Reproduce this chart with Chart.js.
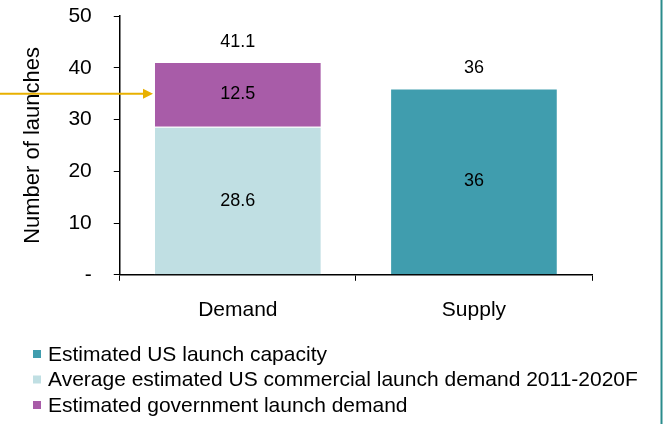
<!DOCTYPE html>
<html>
<head>
<meta charset="utf-8">
<script src="https://cdn.jsdelivr.net/npm/chart.js@4.4.1/dist/chart.umd.min.js"></script>
<style>
  html, body { margin: 0; padding: 0; background: #fff; }
  #wrap { width: 663px; height: 424px; position: relative; }
</style>
</head>
<body>
<div id="wrap"><canvas id="mycanvas" width="663" height="424"></canvas></div>
<script>
// chart values
var categories = ['Demand', 'Supply'];
var capacity = [null, 36];
var commercial = [28.6, null];
var government = [12.5, null];
var yTicks = [0, 10, 20, 30, 40, 50];
var arrowValue = 35;

var seriesNames = [
    'Estimated US launch capacity',
    'Average estimated US commercial launch demand 2011-2020F',
    'Estimated government launch demand'
];

var font = "'Liberation Sans', Arial, sans-serif";

// values inside bars + totals on top
var valueLabels = {
    id: 'valueLabels',
    afterDatasetsDraw: function(chart) {
        var ctx = chart.ctx;
        ctx.save();
        ctx.font = '18px ' + font;
        ctx.fillStyle = '#000';
        ctx.textAlign = 'center';
        ctx.textBaseline = 'middle';
        chart.data.datasets.forEach(function(ds, di) {
            var meta = chart.getDatasetMeta(di);
            meta.data.forEach(function(bar, i) {
                var v = ds.data[i];
                if (v === null) return;
                ctx.fillText(String(v), bar.x, (bar.y + bar.base) / 2);
            });
        });
        // totals
        var yScale = chart.scales.y;
        var xScale = chart.scales.x;
        categories.forEach(function(c, i) {
            var total = 0;
            chart.data.datasets.forEach(function(ds) { if (ds.data[i] !== null) total += ds.data[i]; });
            var t = Math.round(total * 10) / 10;
            ctx.fillText(String(t), xScale.getPixelForValue(i), yScale.getPixelForValue(total) - 20);
        });
        ctx.restore();
    }
};

// legend drawn by hand, one series per line
var stackedLegend = {
    id: 'stackedLegend',
    afterDraw: function(chart) {
        var ctx = chart.ctx;
        ctx.save();
        ctx.font = '21px ' + font;
        ctx.textBaseline = 'middle';
        ctx.textAlign = 'left';
        chart.data.datasets.forEach(function(ds, i) {
            var y = 354 + i * 25.5;
            ctx.fillStyle = ds.backgroundColor;
            ctx.fillRect(33, y - 4, 8, 8);
            ctx.fillStyle = '#000';
            ctx.fillText(ds.label, 48, y + 1);
        });
        ctx.restore();
    }
};

// yellow arrow pointing at the demand bar + frame line
var decorations = {
    id: 'decorations',
    afterDraw: function(chart) {
        var ctx = chart.ctx;
        var y = chart.scales.y.getPixelForValue(arrowValue);
        var bar = chart.getDatasetMeta(2).data[0];
        var tip = bar.x - bar.width / 2 - 1;
        ctx.save();
        ctx.strokeStyle = '#E8B000';
        ctx.fillStyle = '#E8B000';
        ctx.lineWidth = 2;
        ctx.beginPath();
        ctx.moveTo(0, y);
        ctx.lineTo(tip - 9, y);
        ctx.stroke();
        ctx.beginPath();
        ctx.moveTo(tip, y);
        ctx.lineTo(tip - 10, y - 5);
        ctx.lineTo(tip - 10, y + 5);
        ctx.closePath();
        ctx.fill();
        // right frame edge
        ctx.strokeStyle = '#2A8C8C';
        ctx.lineWidth = 2;
        ctx.beginPath();
        ctx.moveTo(chart.width - 1.5, 0);
        ctx.lineTo(chart.width - 1.5, chart.height);
        ctx.stroke();
        ctx.restore();
    }
};

var chartdata = {
    labels: categories,
    datasets: [
        {
            label: seriesNames[0],
            backgroundColor: '#409DAE',
            borderColor: '#ffffff',
            borderWidth: 1,
            data: capacity
        },
        {
            label: seriesNames[1],
            backgroundColor: '#C0DFE3',
            borderColor: '#ffffff',
            borderWidth: 1,
            data: commercial
        },
        {
            label: seriesNames[2],
            backgroundColor: '#A85CA8',
            borderColor: '#ffffff',
            borderWidth: 1,
            data: government
        }
    ]
};

var ctx = document.getElementById('mycanvas');

var barGraph = new Chart(ctx, {
    type: 'bar',
    data: chartdata,
    plugins: [valueLabels, stackedLegend, decorations],
    options: {
        responsive: false,
        animation: false,
        layout: { padding: { top: 16, left: 20, right: 71, bottom: 84 } },
        datasets: { bar: { categoryPercentage: 0.71, barPercentage: 1, skipNull: true } },
        scales: {
            x: {
                stacked: true,
                grid: { offset: true, drawOnChartArea: false, drawTicks: true, tickLength: 6, color: '#000' },
                border: { display: true, color: '#000', width: 1.5 },
                ticks: { color: '#000', font: { size: 21, family: font }, padding: 17 }
            },
            y: {
                stacked: true,
                min: 0,
                max: 50,
                afterBuildTicks: function(axis) {
                    axis.ticks = yTicks.map(function(v) { return { value: v }; });
                },
                afterFit: function(axis) {
                    axis.paddingTop = 0;
                    axis.paddingBottom = 0;
                },
                grid: { drawOnChartArea: false, drawTicks: true, tickLength: 6, color: '#000' },
                border: { display: true, color: '#000', width: 1.5 },
                ticks: {
                    color: '#000',
                    font: { size: 21, family: font },
                    padding: 22,
                    callback: function(v) { return v === 0 ? '-' : v; }
                },
                title: {
                    display: true,
                    text: 'Number of launches',
                    color: '#000',
                    font: { size: 22, family: font },
                    padding: { top: 0, bottom: 0 }
                }
            }
        },
        plugins: {
            tooltip: { enabled: false },
            legend: { display: false }
        }
    }
});
</script>
</body>
</html>
